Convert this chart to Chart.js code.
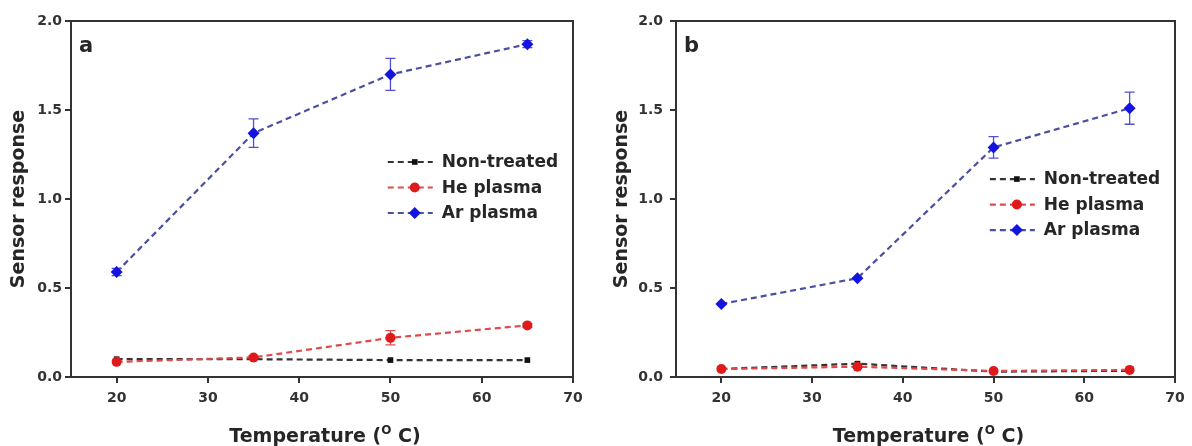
<!DOCTYPE html>
<html>
<head>
<meta charset="utf-8">
<script src="https://cdn.jsdelivr.net/npm/chart.js@4.4.1/dist/chart.umd.min.js"></script>
<style>
  html, body { margin: 0; padding: 0; background: #fff; }
  .wrap { display: flex; width: 1192px; height: 446px; }
  canvas { display: block; }
</style>
</head>
<body>
<div class="wrap">
  <canvas id="chartA" width="596" height="446"></canvas>
  <canvas id="chartB" width="596" height="446"></canvas>
</div>
<script>
const temperatures = [20, 35, 50, 65];
const xTicks = [20, 30, 40, 50, 60, 70];
const yTicks = [0, 0.5, 1.0, 1.5, 2.0];
const seriesNames = ['Non-treated', 'He plasma', 'Ar plasma'];

// (a)
const nonTreatedA = [0.10, 0.10, 0.095, 0.095];
const nonTreatedErrA = [0, 0, 0, 0];
const hePlasmaA = [0.085, 0.11, 0.22, 0.29];
const hePlasmaErrA = [0, 0.01, 0.04, 0.01];
const arPlasmaA = [0.59, 1.37, 1.70, 1.87];
const arPlasmaErrA = [0.02, 0.08, 0.09, 0.02];

// (b)
const nonTreatedB = [0.045, 0.075, 0.03, 0.035];
const nonTreatedErrB = [0, 0, 0, 0];
const hePlasmaB = [0.045, 0.058, 0.034, 0.04];
const hePlasmaErrB = [0, 0, 0, 0];
const arPlasmaB = [0.41, 0.555, 1.29, 1.51];
const arPlasmaErrB = [0, 0, 0.06, 0.09];

const FONT = "'DejaVu Sans', sans-serif";
const INK = '#262626';

function toPoints(values) {
  return values.map((v, i) => ({ x: temperatures[i], y: v }));
}

function buildDatasets(non, nonErr, he, heErr, ar, arErr) {
  const common = { borderDash: [6, 4], borderWidth: 2.2, clip: false, pointBorderWidth: 0, tension: 0 };
  return [
    Object.assign({}, common, {
      label: seriesNames[0], data: toPoints(non), errors: nonErr, order: 1,
      borderColor: '#333333', backgroundColor: '#111111', pointBackgroundColor: '#111111',
      pointStyle: 'rect', pointRadius: 4, errorColor: '#333333'
    }),
    Object.assign({}, common, {
      label: seriesNames[1], data: toPoints(he), errors: heErr, order: 0,
      borderColor: '#e04a4a', backgroundColor: '#e01a1a', pointBackgroundColor: '#e01a1a',
      pointStyle: 'circle', pointRadius: 5, errorColor: '#e05050'
    }),
    Object.assign({}, common, {
      label: seriesNames[2], data: toPoints(ar), errors: arErr, order: 2,
      borderColor: '#4a4fa0', backgroundColor: '#1414e0', pointBackgroundColor: '#1414e0',
      pointStyle: 'rectRot', pointRadius: 6, errorColor: '#5050d0'
    })
  ];
}

// box around the plot area
const frame = {
  id: 'frame',
  beforeDatasetsDraw(chart) {
    const { ctx, chartArea: a } = chart;
    ctx.save();
    ctx.strokeStyle = '#333';
    ctx.lineWidth = 2;
    ctx.strokeRect(a.left, a.top, a.right - a.left, a.bottom - a.top);
    ctx.restore();
  }
};

const errorBars = {
  id: 'errorBars',
  beforeDatasetsDraw(chart) {
    const { ctx, scales: { x, y } } = chart;
    chart.data.datasets.forEach(ds => {
      if (!ds.errors) return;
      ctx.save();
      ctx.strokeStyle = ds.errorColor;
      ctx.lineWidth = 1.3;
      ds.data.forEach((pt, j) => {
        const e = ds.errors[j];
        if (!e) return;
        const px = x.getPixelForValue(pt.x);
        const top = y.getPixelForValue(pt.y + e);
        const bot = y.getPixelForValue(pt.y - e);
        ctx.beginPath();
        ctx.moveTo(px, top); ctx.lineTo(px, bot);
        ctx.moveTo(px - 5, top); ctx.lineTo(px + 5, top);
        ctx.moveTo(px - 5, bot); ctx.lineTo(px + 5, bot);
        ctx.stroke();
      });
      ctx.restore();
    });
  }
};

const panelLegend = {
  id: 'panelLegend',
  afterDraw(chart, args, opts) {
    const { ctx, chartArea: a } = chart;
    const x0 = a.left + opts.x * (a.right - a.left);
    let y0 = a.top + opts.y * (a.bottom - a.top);
    ctx.save();
    ctx.font = 'bold 17px ' + FONT;
    ctx.textBaseline = 'middle';
    chart.data.datasets.forEach(ds => {
      ctx.strokeStyle = ds.borderColor;
      ctx.lineWidth = 2.2;
      ctx.setLineDash([6, 4]);
      ctx.beginPath();
      ctx.moveTo(x0, y0); ctx.lineTo(x0 + 45, y0);
      ctx.stroke();
      ctx.setLineDash([]);
      ctx.fillStyle = ds.pointBackgroundColor;
      Chart.helpers.drawPoint(ctx, { pointStyle: ds.pointStyle, radius: ds.pointRadius, borderWidth: 0, rotation: 0 }, x0 + 27, y0);
      ctx.fillStyle = INK;
      ctx.fillText(ds.label, x0 + 54, y0 + 1);
      y0 += 25.5;
    });
    ctx.restore();
  }
};

// panel letter and x-axis title with superscript degree "O"
const annotations = {
  id: 'annotations',
  afterDraw(chart, args, opts) {
    const { ctx, chartArea: a } = chart;
    ctx.save();
    ctx.fillStyle = INK;
    ctx.font = 'bold 21px ' + FONT;
    ctx.textBaseline = 'alphabetic';
    ctx.fillText(opts.letter, a.left + 8, a.top + 31);

    const big = 'bold 19px ' + FONT;
    const small = 'bold 12px ' + FONT;
    const parts = [['Temperature (', big, 0], ['O', small, -8], [' C)', big, 0]];
    let total = 0;
    parts.forEach(p => { ctx.font = p[1]; total += ctx.measureText(p[0]).width; });
    let cx = (a.left + a.right) / 2 + 3 - total / 2;
    const base = 442;
    parts.forEach(p => {
      ctx.font = p[1];
      ctx.fillText(p[0], cx, base + p[2]);
      cx += ctx.measureText(p[0]).width;
    });
    ctx.restore();
  }
};

function makeChart(id, datasets, geo) {
  return new Chart(document.getElementById(id), {
    type: 'line',
    data: { datasets: datasets },
    plugins: [frame, errorBars, panelLegend, annotations],
    options: {
      responsive: false,
      animation: false,
      layout: { padding: { top: 21, right: geo.right, bottom: 0, left: 0 } },
      plugins: {
        legend: { display: false },
        tooltip: { enabled: false },
        panelLegend: { x: geo.legendX, y: geo.legendY },
        annotations: { letter: geo.letter }
      },
      scales: {
        x: {
          type: 'linear', min: 15, max: 70,
          afterBuildTicks: s => { s.ticks = xTicks.map(v => ({ value: v })); },
          afterFit: s => { s.height = 69; },
          grid: { drawOnChartArea: false, drawTicks: true, tickLength: 6, color: '#333', lineWidth: 2 },
          border: { color: '#333', width: 2 },
          ticks: { color: '#333', font: { family: FONT, size: 14, weight: 'bold' }, padding: 7, maxRotation: 0 }
        },
        y: {
          min: 0, max: 2,
          afterBuildTicks: s => { s.ticks = yTicks.map(v => ({ value: v })); },
          afterFit: s => { s.width = geo.left; },
          grid: { drawOnChartArea: false, drawTicks: true, tickLength: 6, color: '#333', lineWidth: 2 },
          border: { color: '#333', width: 2 },
          ticks: { color: '#333', font: { family: FONT, size: 14, weight: 'bold' }, padding: geo.tickPad, callback: v => Number(v).toFixed(1) },
          title: { display: true, text: 'Sensor response', color: INK, font: { family: FONT, size: 19, weight: 'bold' }, padding: { top: geo.titlePad, bottom: 0 } }
        }
      }
    }
  });
}

makeChart('chartA', buildDatasets(nonTreatedA, nonTreatedErrA, hePlasmaA, hePlasmaErrA, arPlasmaA, arPlasmaErrA),
  { left: 71, right: 23, tickPad: 3, titlePad: 8, legendX: 0.631, legendY: 0.396, letter: 'a' });
makeChart('chartB', buildDatasets(nonTreatedB, nonTreatedErrB, hePlasmaB, hePlasmaErrB, arPlasmaB, arPlasmaErrB),
  { left: 80, right: 17, tickPad: 7, titlePad: 15, legendX: 0.629, legendY: 0.444, letter: 'b' });
</script>
</body>
</html>
